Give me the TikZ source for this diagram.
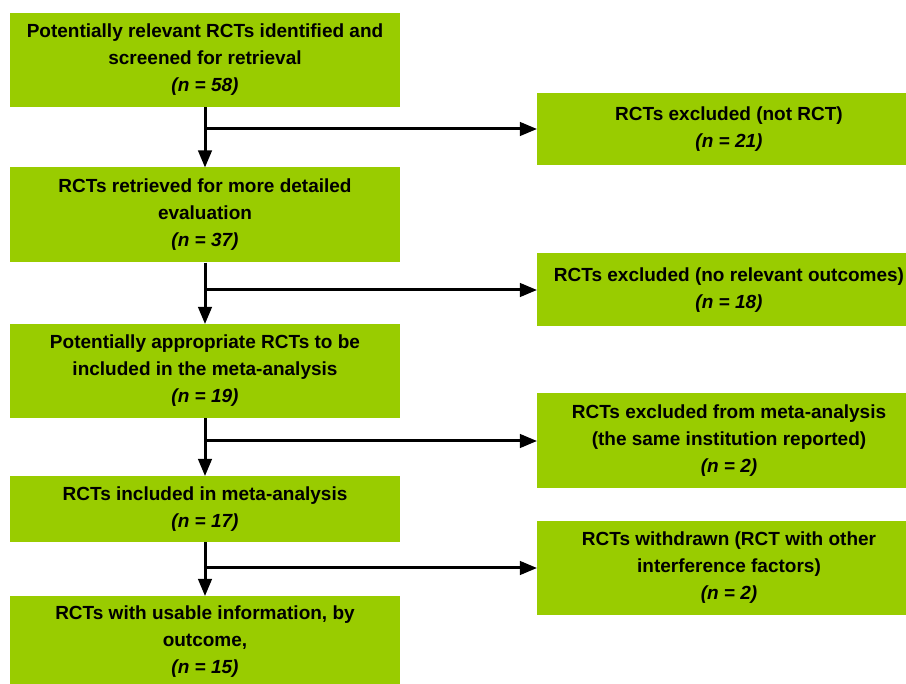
\documentclass[tikz,border=0pt]{standalone}
\usepackage{fontspec}
\setmainfont{Liberation Sans}
\usetikzlibrary{arrows, positioning}
\definecolor{flowgreen}{HTML}{99CC00}

\begin{document}
\begin{tikzpicture}[x=1pt, y=-1pt,
    stage/.style={fill=flowgreen, minimum width=390pt, align=center,
        font=\fontsize{19}{27}\selectfont\bfseries, inner sep=0pt},
    excl/.style={stage, minimum width=384pt},
    flow/.style={-triangle 45, line width=3pt}]
    \useasboundingbox (0, 0) rectangle (906, 684);
    \begin{scope}
    \clip (0, 0) rectangle (906, 684);
    \node[stage, minimum height=94pt] (S1) at (205, 60) {Potentially relevant RCTs identified and\\ screened for retrieval\\ \textit{(n = 58)}};
    \node[stage, minimum height=95pt] (S2) at (205, 215) {RCTs retrieved for more detailed\\ evaluation\\ \textit{(n = 37)}};
    \node[stage, minimum height=94pt] (S3) at (205, 371) {Potentially appropriate RCTs to be\\ included in the meta-analysis\\ \textit{(n = 19)}};
    \node[stage, minimum height=66pt] (S4) at (205, 509) {RCTs included in meta-analysis\\ \textit{(n = 17)}};
    \node[stage, minimum height=92pt] (S5) at (205, 642) {RCTs with usable information, by\\ outcome,\\ \textit{(n = 15)}};
    \node[excl, minimum height=72pt] (E1) at (729, 129) {RCTs excluded (not RCT)\\ \textit{(n = 21)}};
    \node[excl, minimum height=73pt] (E2) at (729, 290) {RCTs excluded (no relevant outcomes)\\ \textit{(n = 18)}};
    \node[excl, minimum height=95pt] (E3) at (729, 441) {RCTs excluded from meta-analysis\\ (the same institution reported)\\ \textit{(n = 2)}};
    \node[excl, minimum height=94pt] (E4) at (729, 568) {RCTs withdrawn (RCT with other\\ interference factors)\\ \textit{(n = 2)}};
    \end{scope}
    % main flow
    \draw[flow] (S1) -- (S2);
    \draw[flow] (S2) -- (S3);
    \draw[flow] (S3) -- (S4);
    \draw[flow] (S4) -- (S5);
    % exclusions
    \draw[flow] (S1.south |- E1.west) -- (E1.west);
    \draw[flow] (S2.south |- E2.west) -- (E2.west);
    \draw[flow] (S3.south |- E3.west) -- (E3.west);
    \draw[flow] (S4.south |- E4.west) -- (E4.west);
\end{tikzpicture}
\end{document}
